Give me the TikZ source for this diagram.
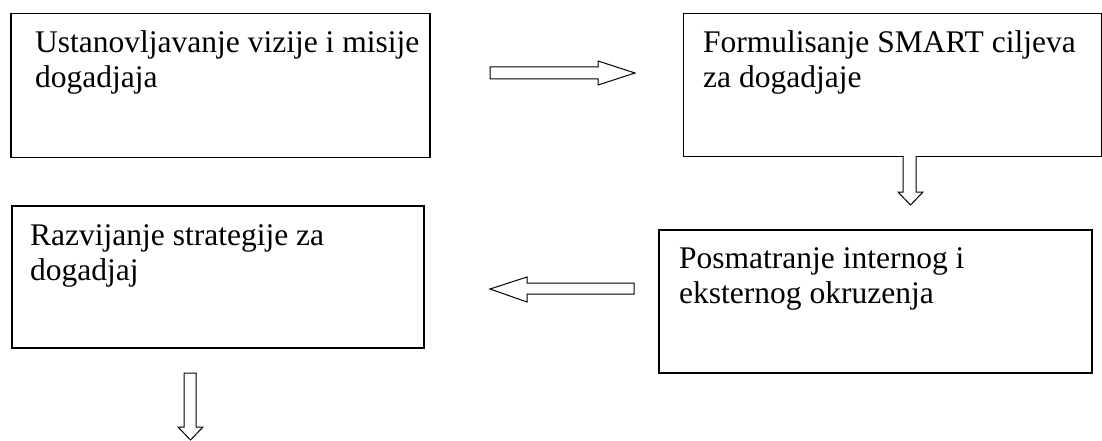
\documentclass[tikz,border=0pt]{standalone}
\usepackage{fontspec}
\setmainfont{Liberation Serif}
\begin{document}
\begin{tikzpicture}[x=1pt,y=-1pt,
  box/.style={draw,line width=1.5pt,inner sep=0pt,anchor=north west},
  lbl/.style={anchor=base west,inner sep=0pt,font=\fontsize{31.5}{35}\selectfont},
  barrow/.style={draw,line width=1pt,fill=white}]
\useasboundingbox (0,0) rectangle (1102,441);
% boxes
\node[box,minimum width=419pt,minimum height=144pt] (b1) at (10,12.7) {};
\node[box,minimum width=418pt,minimum height=143pt] (b2) at (682.7,12.7) {};
\node[box,minimum width=412pt,minimum height=142pt] (b3) at (11,205) {};
\node[box,minimum width=433pt,minimum height=143pt] (b4) at (658,229) {};
% texts
\node[lbl] (t1a) at (35,53) {Ustanovljavanje vizije i misije};
\node[lbl] (t1b) at (35,88) {dogadjaja};
\node[lbl] (t2a) at (703,53) {Formulisanje SMART ciljeva};
\node[lbl] (t2b) at (703,88) {za dogadjaje};
\node[lbl] (t3a) at (30,245) {Razvijanje strategije za};
\node[lbl] (t3b) at (30,280) {dogadjaj};
\node[lbl] (t4a) at (679,268) {Posmatranje internog i};
\node[lbl] (t4b) at (679,303) {eksternog okruzenja};
% block arrows
\draw[barrow] (490,67) -- (598,67) -- (598,61) -- (635,73) -- (598,85) -- (598,79) -- (490,79) -- cycle;
\draw[barrow] (903,156) -- (903,192) -- (898,192) -- (910.5,205) -- (923,192) -- (916,192) -- (916,156);
\draw[barrow] (634,283) -- (527,283) -- (527,277) -- (490,289) -- (527,302) -- (527,294) -- (634,294) -- cycle;
\draw[barrow] (184,373) -- (196,373) -- (196,427) -- (203,427) -- (190.5,440) -- (178,427) -- (184,427) -- cycle;
\end{tikzpicture}
\end{document}
